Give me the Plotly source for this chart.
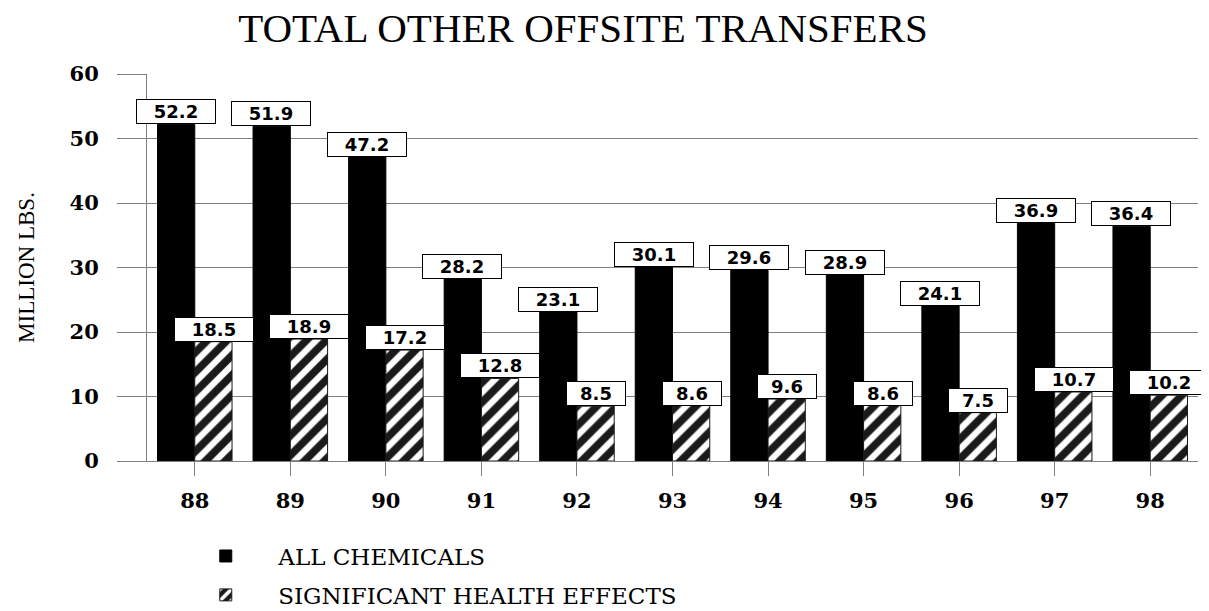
"""
TOTAL OTHER OFFSITE TRANSFERS chart
"""
import plotly.graph_objects as go

# データ
years = ["88", "89", "90", "91", "92", "93", "94", "95", "96", "97", "98"]
all_chemicals = [52.2, 51.9, 47.2, 28.2, 23.1, 30.1, 29.6, 28.9, 24.1, 36.9, 36.4]
health_effects = [18.5, 18.9, 17.2, 12.8, 8.5, 8.6, 9.6, 8.6, 7.5, 10.7, 10.2]
y_ticks = [0, 10, 20, 30, 40, 50, 60]

fig = go.Figure()

fig.add_trace(go.Bar(
    x=years, y=all_chemicals,
    name="ALL CHEMICALS", legendgroup="a",
    marker=dict(color="black", line=dict(color="black", width=1)),
))
fig.add_trace(go.Bar(
    x=years, y=health_effects,
    name="SIGNIFICANT HEALTH EFFECTS", legendgroup="b",
    marker=dict(
        color="#1a1a1a",
        line=dict(color="#1a1a1a", width=1),
        pattern=dict(shape="/", fgcolor="white", fgopacity=1, size=14, solidity=0.45,
                     fillmode="overlay"),
    ),
))

# 値ラベル（白地に黒枠）
def add_labels(values, shift):
    for i, v in enumerate(values):
        txt = f"{v:.1f}"
        fig.add_annotation(
            x=i, y=v, xref="x", yref="y",
            text=txt, showarrow=False,
            xshift=shift, yanchor="bottom", yshift=0,
            font=dict(family="DejaVu Sans", size=18, color="black", weight="bold"),
            bgcolor="white", bordercolor="black", borderwidth=1, borderpad=1,
            width=20 * len(txt) - 4,
        )

add_labels(all_chemicals, -19)
add_labels(health_effects, 19)

# ページ余白(8px)ぶんを差し引いたマージン
fig.update_layout(
    title=dict(text="TOTAL OTHER OFFSITE TRANSFERS", x=575 / 1209, xanchor="center",
               y=1 - 20 / 611, yanchor="middle",
               font=dict(family="Liberation Serif", size=41, color="black")),
    width=1209, height=611,
    margin=dict(l=139, r=19, t=66, b=158, autoexpand=False),
    plot_bgcolor="white", paper_bgcolor="white",
    barmode="group", bargap=0.22, bargroupgap=0,
    legend=dict(
        x=0.025, y=-0.19, xanchor="left", yanchor="top", orientation="v",
        font=dict(family="DejaVu Serif", size=23, color="black"),
        itemwidth=95, tracegroupgap=6,
    ),
)

fig.update_yaxes(
    range=[0, 60], tickvals=y_ticks, automargin=False,
    showgrid=True, gridcolor="#808080", gridwidth=1,
    showline=True, linecolor="#808080", linewidth=1,
    ticks="outside", ticklen=29, tickcolor="#808080",
    ticklabelstandoff=14,
    tickfont=dict(family="DejaVu Serif", size=21, color="black", weight="bold"),
    title=dict(text="MILLION LBS.", standoff=28,
               font=dict(family="Liberation Serif", size=23, color="black")),
)
fig.update_xaxes(
    type="category", range=[-0.5, 10.5], automargin=False,
    showline=True, linecolor="#808080", linewidth=1,
    ticks="outside", ticklen=14, tickcolor="#808080",
    ticklabelstandoff=7,
    tickfont=dict(family="DejaVu Serif", size=21, color="black", weight="bold"),
)

fig.write_html("out.html")
